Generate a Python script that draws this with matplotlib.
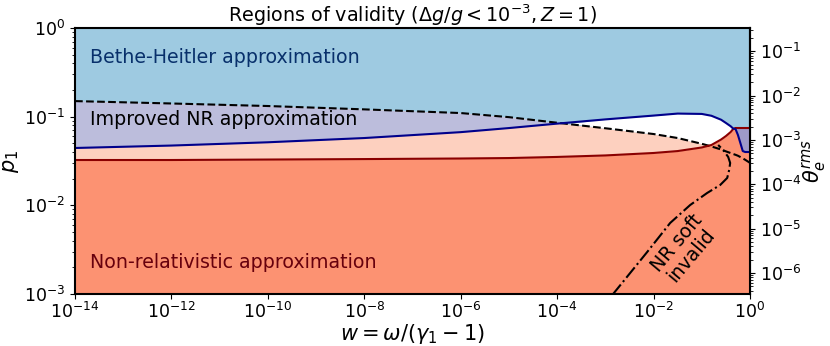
import numpy as np
import matplotlib
matplotlib.use('Agg')
import matplotlib.pyplot as plt
from matplotlib.ticker import NullLocator, LogLocator

# ── Boundary curves, sampled on a shared w grid (log10 w) ──────────────────────
LOG_W = [-14, -12, -10, -8, -6, -5, -4, -3, -2, -1.5, -1, -0.8, -0.6, -0.5,
         -0.4, -0.35, -0.3, -0.25, -0.2, -0.15, -0.1, 0]

# NR validity limit (red)
P_NR = [0.0325, 0.0325, 0.0329, 0.0333, 0.0338, 0.0342, 0.0352, 0.0366, 0.0390,
        0.0410, 0.0450, 0.0480, 0.0553, 0.0605, 0.0673, 0.0726, 0.0746, 0.0746,
        0.0746, 0.0746, 0.0746, 0.0746]

# Bethe-Heitler validity limit (blue)
P_BH = [0.0444, 0.0473, 0.0515, 0.0575, 0.0670, 0.0745, 0.0836, 0.0933, 0.1030,
        0.1085, 0.1075, 0.1025, 0.0925, 0.0851, 0.0780, 0.0736, 0.0726, 0.0622,
        0.0506, 0.0410, 0.0400, 0.0400]

# improved NR validity limit (dashed)
P_INR = [0.150, 0.141, 0.132, 0.121, 0.110, 0.0989, 0.0855, 0.0741, 0.0638,
         0.0575, 0.0495, 0.0462, 0.0427, 0.0407, 0.0389, 0.0380, 0.0372, 0.0363,
         0.0351, 0.0339, 0.0327, 0.0302]

# "NR soft invalid" boundary (dash-dot)
SOFT_W = [1.40e-3, 7.36e-3, 0.0221, 0.0574, 0.129, 0.241, 0.337, 0.370, 0.388,
          0.353, 0.278, 0.219]
SOFT_P = [0.98e-3, 2.98e-3, 6.34e-3, 0.0101, 0.0138, 0.0170, 0.0204, 0.0251,
          0.0301, 0.0352, 0.0421, 0.0480]

# ── Colours ────────────────────────────────────────────────────────────────────
C_BH     = '#9ecae1'
C_BOTH   = '#bcbddc'
C_INR    = '#fdd0bf'
C_NR     = '#fc9272'
C_OVER   = '#9e9ac8'
C_BLUE   = '#00008b'
C_RED    = '#8b0000'

TXT = 13.7   # region labels
TCK = 12.5   # tick labels

w     = 10.0 ** np.array(LOG_W)
p_nr  = np.array(P_NR)
p_bh  = np.array(P_BH)
p_inr = np.array(P_INR)

fig = plt.figure(figsize=(8.3, 3.46), dpi=100)
ax = fig.add_axes([0.0904, 0.150, 0.8132, 0.769])
ax.set_xscale('log')
ax.set_yscale('log')
ax.set_xlim(1e-14, 1)
ax.set_ylim(1e-3, 1)
ax.set_facecolor(C_BH)

# ── Regions ──
ax.fill_between(w, 1e-3, p_nr, color=C_NR, lw=0)
ax.fill_between(w, p_nr, p_inr, where=p_inr > p_nr, interpolate=True,
                color=C_INR, lw=0)
lower = np.maximum(p_bh, p_nr)
ax.fill_between(w, lower, p_inr, where=p_inr > lower, interpolate=True,
                color=C_BOTH, lw=0)
upper = np.maximum(p_inr, p_nr)
ax.fill_between(w, upper, p_bh, where=p_bh > upper, interpolate=True,
                color='white', lw=0)
ax.fill_between(w, p_bh, p_nr, where=p_nr > p_bh, interpolate=True,
                color=C_OVER, lw=0)

# ── Boundaries ──
ax.plot(w, p_inr, color='black', ls='--', lw=1.5)
ax.plot(w, p_nr, color=C_RED, lw=1.5)
ax.plot(w, p_bh, color=C_BLUE, lw=1.5)
ax.plot(SOFT_W, SOFT_P, color='black', ls='-.', lw=1.5)

# ── Labels ──
ax.text(2.0e-14, 0.47, 'Bethe-Heitler approximation', color='#08306b',
        va='center', fontsize=TXT)
ax.text(2.0e-14, 0.092, 'Improved NR approximation', color='black',
        va='center', fontsize=TXT)
ax.text(2.0e-14, 2.3e-3, 'Non-relativistic approximation', color='#67000d',
        va='center', fontsize=TXT)
ax.text(0.043, 3.2e-3, 'NR soft\ninvalid', rotation=50, ha='center',
        va='center', fontsize=TXT, linespacing=1.0)

ax.set_title(r'Regions of validity ($\Delta g/g < 10^{-3}, Z=1$)', fontsize=13.8,
             pad=4)
ax.set_xlabel(r'$w = \omega/(\gamma_1-1)$', fontsize=15, labelpad=0)
ax.set_ylabel(r'$p_1$', fontsize=15, labelpad=2)

ax.xaxis.set_major_locator(LogLocator(base=10, numticks=8))
ax.xaxis.set_minor_locator(NullLocator())
ax.tick_params(labelsize=TCK)
ax.tick_params(axis='x', pad=2)
for sp in ax.spines.values():
    sp.set_linewidth(1.5)

sec = ax.secondary_yaxis('right', functions=(lambda p: p ** 2 / 3,
                                             lambda t: np.sqrt(3 * t)))
sec.tick_params(labelsize=TCK)
sec.set_ylabel(r'$\theta_e^{rms}$', fontsize=15, labelpad=0)
sec.spines['right'].set_linewidth(1.5)

fig.savefig('out.png', dpi=100)
